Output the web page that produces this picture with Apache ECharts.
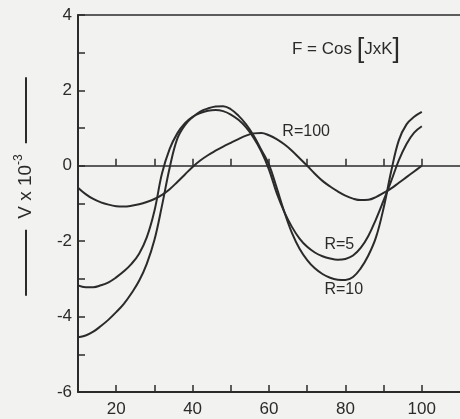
<!DOCTYPE html>
<html>
<head>
<meta charset="utf-8">
<script src="https://cdn.jsdelivr.net/npm/echarts@6/dist/echarts.min.js"></script>
<style>
html, body { margin: 0; padding: 0; background: #f2f3f1; }
#chart { width: 460px; height: 419px; }
</style>
</head>
<body>
<div id="chart"></div>
<script>
// J values (x axis), step 2
var jValues = [10, 12, 14, 16, 18, 20, 22, 24, 26, 28, 30, 32, 34, 36, 38, 40, 42, 44, 46, 48, 50, 52, 54, 56, 58, 60, 62, 64, 66, 68, 70, 72, 74, 76, 78, 80, 82, 84, 86, 88, 90, 92, 94, 96, 98, 100];
// V x 10^-3
var vR5 = [-3.17, -3.22, -3.22, -3.17, -3.09, -2.96, -2.8, -2.6, -2.33, -1.9, -1.2, -0.2, 0.45, 0.86, 1.13, 1.3, 1.4, 1.46, 1.48, 1.45, 1.36, 1.22, 1.02, 0.74, 0.38, -0.1, -0.72, -1.22, -1.62, -1.93, -2.15, -2.3, -2.4, -2.46, -2.49, -2.47, -2.38, -2.18, -1.86, -1.42, -0.92, -0.4, 0.15, 0.58, 0.88, 1.05];
var vR10 = [-4.55, -4.5, -4.4, -4.25, -4.08, -3.88, -3.66, -3.38, -3.05, -2.6, -1.97, -1.05, -0.05, 0.72, 1.08, 1.29, 1.44, 1.52, 1.57, 1.58, 1.5, 1.33, 1.1, 0.8, 0.42, 0.03, -0.58, -1.22, -1.78, -2.2, -2.5, -2.72, -2.87, -2.97, -3.02, -3.03, -2.95, -2.72, -2.38, -1.9, -1.12, -0.14, 0.68, 1.1, 1.3, 1.43];
var vR100 = [-0.58, -0.75, -0.88, -0.97, -1.03, -1.07, -1.08, -1.06, -1.02, -0.96, -0.88, -0.77, -0.62, -0.43, -0.23, -0.03, 0.14, 0.28, 0.4, 0.51, 0.61, 0.71, 0.8, 0.86, 0.87, 0.81, 0.71, 0.57, 0.4, 0.2, 0.0, -0.21, -0.4, -0.55, -0.68, -0.79, -0.87, -0.91, -0.9, -0.83, -0.72, -0.6, -0.45, -0.3, -0.15, 0.0];

var xTicks = [20, 30, 40, 50, 60, 70, 80, 90, 100];
var xLabels = [20, 40, 60, 80, 100];
// where the curve names sit (data coords)
var labelR100 = [63.5, 0.9];
var labelR5 = [74.5, -2.08];
var labelR10 = [74.5, -3.28];

var ink = '#2b2b2b';
var font = 'Liberation Sans';

var myChart = echarts.init(document.getElementById('chart'));

function pairs(ys) {
  return jValues.map(function (x, i) { return [x, ys[i]]; });
}

function curve(name, ys, pos) {
  return {
    name: name,
    type: 'line',
    xAxisIndex: 0,
    yAxisIndex: 0,
    smooth: 0.4,
    showSymbol: false,
    silent: true,
    lineStyle: { color: ink, width: 2 },
    data: pairs(ys),
    markPoint: {
      symbol: 'circle',
      symbolSize: 0,
      silent: true,
      label: {
        show: true,
        position: 'right',
        distance: 0,
        formatter: name,
        color: ink,
        fontFamily: font,
        fontSize: 16
      },
      data: [{ coord: pos }]
    }
  };
}

var option = {
  backgroundColor: '#f2f3f1',
  animation: false,
  title: {
    left: 287,
    top: 31,
    text: '{a|F = Cos }{b|[}{a|JxK}{b|]}',
    textStyle: {
      fontWeight: 'normal',
      rich: {
        a: { fontFamily: font, fontSize: 17, fontWeight: 'normal', color: ink },
        b: { fontFamily: font, fontSize: 27, fontWeight: 'normal', color: ink }
      }
    }
  },
  grid: {
    left: 78,
    right: 0,
    top: 15,
    bottom: 27,
    outerBoundsMode: 'none'
  },
  xAxis: [
    {
      type: 'value',
      min: 10,
      max: 110,
      position: 'bottom',
      axisLine: { onZero: false, lineStyle: { color: ink, width: 2 } },
      axisTick: { inside: true, length: 7, customValues: xTicks, lineStyle: { color: ink, width: 1.5 } },
      axisLabel: { customValues: xLabels, color: ink, fontFamily: font, fontSize: 17, margin: 9 },
      splitLine: { show: false }
    },
    {
      type: 'value',
      min: 10,
      max: 110,
      position: 'bottom',
      axisLine: { onZero: true, lineStyle: { color: ink, width: 1.5 } },
      axisTick: { inside: true, length: 7, customValues: xTicks, lineStyle: { color: ink, width: 1.5 } },
      axisLabel: { show: false },
      splitLine: { show: false }
    },
    {
      type: 'value',
      min: 10,
      max: 110,
      position: 'top',
      axisLine: { onZero: false, lineStyle: { color: ink, width: 1.5 } },
      axisTick: { show: false },
      axisLabel: { show: false },
      splitLine: { show: false }
    }
  ],
  yAxis: {
    type: 'value',
    min: -6,
    max: 4,
    interval: 1,
    axisLine: { show: true, onZero: false, lineStyle: { color: ink, width: 2 } },
    axisTick: { show: true, inside: true, length: 7, lineStyle: { color: ink, width: 1.5 } },
    axisLabel: {
      color: ink,
      fontFamily: font,
      fontSize: 17,
      margin: 6,
      formatter: function (v) { return v % 2 === 0 ? String(v) : ''; }
    },
    splitLine: { show: false },
    name: '{l|}{g|}{t|V x 10}{s|-3}{g|}{l|}',
    nameLocation: 'middle',
    nameRotate: 90,
    nameGap: 39,
    nameMoveOverlap: false,
    nameTextStyle: {
      padding: [0, 0, 0, 34],
      rich: {
        l: { width: 66, height: 2, backgroundColor: ink },
        g: { width: 11 },
        t: { fontFamily: font, fontSize: 19, color: ink },
        s: { fontFamily: font, fontSize: 12, color: ink, verticalAlign: 'top', lineHeight: 26 }
      }
    }
  },
  series: [
    curve('R=5', vR5, labelR5),
    curve('R=10', vR10, labelR10),
    curve('R=100', vR100, labelR100)
  ]
};

myChart.setOption(option);
</script>
</body>
</html>
